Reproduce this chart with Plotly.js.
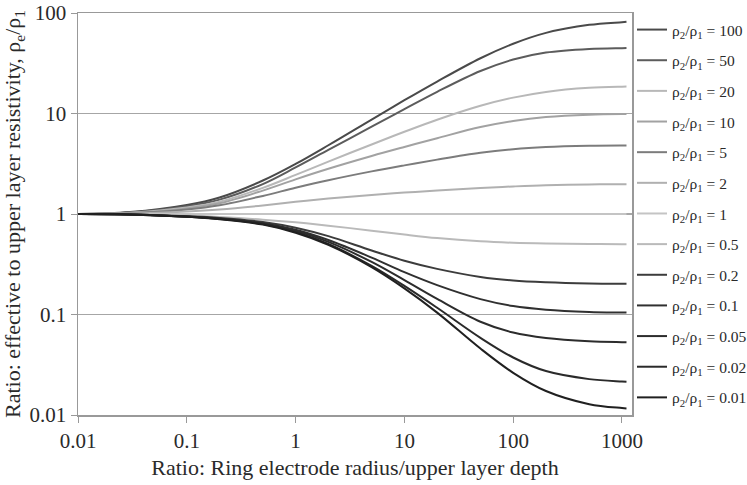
<!DOCTYPE html>
<html>
<head>
<meta charset="utf-8">
<script src="https://cdn.plot.ly/plotly-3.0.1.min.js"></script>
<style>html,body{margin:0;padding:0;background:#fff;}#chart{width:747px;height:485px;}</style>
</head>
<body>
<div id="chart"></div>
<script>
// Ratio: ring electrode radius / upper layer depth
const radiusRatio = [0.01, 0.03, 0.1, 0.2, 0.5, 1, 2, 5, 10, 20, 50, 100, 200, 500, 1000, 1100];

// Layer resistivity contrasts rho2/rho1
const contrasts = ['100', '50', '20', '10', '5', '2', '1', '0.5', '0.2', '0.1', '0.05', '0.02', '0.01'];

// Effective to upper-layer resistivity, one array per contrast
const rho100  = [1, 1.0471, 1.2303, 1.4622, 2.1528, 3.1477, 4.8306, 8.7096, 13.552, 20.797, 35.481, 49.431, 63.387, 76.208, 81.096, 81.846];
const rho50   = [1, 1.0328, 1.1940, 1.3900, 1.9861, 2.9040, 4.3451, 7.3961, 11.066, 16.444, 26.485, 34.435, 40.365, 43.853, 44.668, 44.771];
const rho20   = [1, 1.0280, 1.1588, 1.3213, 1.8197, 2.4491, 3.3189, 4.9204, 6.5766, 8.6696, 11.940, 14.388, 16.406, 17.989, 18.493, 18.535];
const rho10   = [1, 1.0233, 1.1350, 1.2764, 1.7100, 2.2131, 2.8184, 3.7757, 4.6452, 5.6754, 7.3282, 8.4140, 9.2045, 9.7275, 9.8628, 9.8628];
const rho5    = [1, 1.0186, 1.1092, 1.2190, 1.5136, 1.8239, 2.1677, 2.6546, 3.0479, 3.4754, 4.0644, 4.4157, 4.6345, 4.7643, 4.7973, 4.7973];
const rho2    = [1, 1.0093, 1.0593, 1.1092, 1.2162, 1.3213, 1.4256, 1.5488, 1.6331, 1.7100, 1.8155, 1.8793, 1.9320, 1.9679, 1.9815, 1.9815];
const rho1    = [1, 1, 1, 1, 1, 1, 1, 1, 1, 1, 1, 1, 1, 1, 1, 1];
const rho0_5  = [1, 0.99312, 0.96383, 0.93325, 0.87902, 0.82604, 0.76560, 0.68234, 0.62373, 0.57544, 0.53456, 0.51761, 0.50933, 0.50350, 0.50119, 0.50119];
const rho0_2  = [1, 0.99083, 0.95060, 0.91411, 0.83368, 0.73114, 0.60256, 0.43351, 0.34277, 0.28445, 0.23659, 0.21777, 0.20893, 0.20324, 0.20184, 0.20184];
const rho0_1  = [1, 0.99083, 0.94406, 0.90157, 0.81096, 0.69663, 0.55081, 0.36813, 0.26363, 0.19588, 0.14223, 0.12134, 0.11169, 0.10617, 0.10471, 0.10447];
const rho0_05 = [1, 0.99083, 0.94189, 0.89743, 0.80353, 0.68077, 0.52723, 0.33343, 0.21979, 0.14289, 0.084723, 0.066069, 0.058345, 0.054201, 0.053090, 0.052966];
const rho0_02 = [1, 0.99083, 0.93972, 0.89331, 0.79433, 0.66374, 0.50350, 0.30409, 0.19231, 0.11668, 0.058613, 0.037325, 0.027352, 0.022751, 0.021528, 0.021380];
const rho0_01 = [1, 0.99083, 0.93756, 0.88716, 0.78524, 0.65163, 0.49431, 0.29580, 0.18197, 0.10447, 0.045815, 0.026303, 0.017338, 0.012823, 0.011722, 0.011614];

const yTickVals = [0.01, 0.1, 1, 10, 100];
const yTickText = ['0.01', '0.1', '1', '10', '100'];
const xTickVals = [0.01, 0.1, 1, 10, 100, 1000];
const xTickText = ['0.01', '0.1', '1', '10', '100', '1000'];

const series = [rho100, rho50, rho20, rho10, rho5, rho2, rho1, rho0_5, rho0_2, rho0_1, rho0_05, rho0_02, rho0_01];
const colors = ['#4a4a4a', '#5c5c5c', '#b8b8b8', '#a2a2a2', '#7c7c7c', '#b0b0b0', '#c4c4c4', '#bababa', '#3c3c3c', '#303030', '#2c2c2c', '#2a2a2a', '#202020'];

const FONT = 'Liberation Serif, DejaVu Serif, serif';

const traces = series.map((ys, i) => ({
  type: 'scatter',
  mode: 'lines',
  x: radiusRatio,
  y: ys,
  name: 'ρ<sub>2</sub>/ρ<sub>1</sub> = ' + contrasts[i],
  legendgroup: 'g' + i,
  line: {color: colors[i], width: 2, shape: 'spline', smoothing: 1}
}));

const layout = {
  width: 747,
  height: 485,
  margin: {l: 78, r: 115, t: 13, b: 70, autoexpand: false},
  paper_bgcolor: '#ffffff',
  plot_bgcolor: '#ffffff',
  font: {family: FONT, size: 21, color: '#2a2a2a'},
  showlegend: true,
  legend: {
    x: 1, xanchor: 'left', y: 1.0, yanchor: 'top',
    traceorder: 'grouped', tracegroupgap: 7.5,
    font: {family: FONT, size: 15.5, color: '#2a2a2a'},
    bgcolor: 'rgba(0,0,0,0)', borderwidth: 0,
    itemwidth: 30
  },
  xaxis: {
    type: 'log',
    range: [-2, 3.092],
    tickvals: xTickVals,
    ticktext: xTickText,
    ticks: 'outside', ticklen: 6, tickcolor: '#999999', tickwidth: 1,
    showgrid: false,
    showline: true, linecolor: '#999999', linewidth: 1.5, mirror: true,
    zeroline: false,
    automargin: false,
    tickfont: {family: FONT, size: 21, color: '#2a2a2a'},
    title: {text: 'Ratio: Ring electrode radius/upper layer depth', font: {family: FONT, size: 22, color: '#2a2a2a'}, standoff: 8}
  },
  yaxis: {
    type: 'log',
    range: [-2, 2],
    tickvals: yTickVals,
    ticktext: yTickText,
    ticks: 'outside', ticklen: 6, tickcolor: '#999999', tickwidth: 1,
    showgrid: true, gridcolor: '#a6a6a6', gridwidth: 1.5,
    showline: true, linecolor: '#999999', linewidth: 1.5, mirror: true,
    zeroline: false,
    automargin: false,
    tickfont: {family: FONT, size: 21, color: '#2a2a2a'},
    title: {text: 'Ratio: effective to upper layer resistivity, ρ<sub>e</sub>/ρ<sub>1</sub>', font: {family: FONT, size: 22, color: '#2a2a2a'}, standoff: 4}
  }
};

Plotly.newPlot('chart', traces, layout, {displayModeBar: false, staticPlot: true});
</script>
</body>
</html>
